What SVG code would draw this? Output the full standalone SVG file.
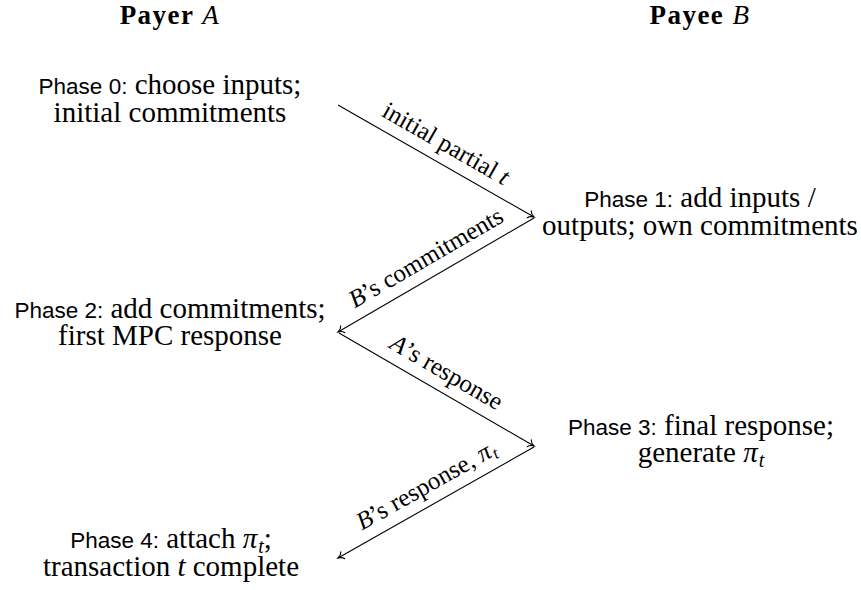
<svg xmlns="http://www.w3.org/2000/svg" width="861" height="590" viewBox="0 0 861 590">
<style>
text{font-family:"Liberation Serif","Times New Roman",serif;fill:#000;text-anchor:middle}
.node{font-size:29px}
.sf{font-family:"Liberation Sans",Arial,sans-serif;font-size:22.5px}
.it{font-style:italic}
.title{font-size:27px;font-weight:bold;letter-spacing:1.5px}
.lbl{font-size:25px}
.conn{stroke:#000;stroke-width:1.1;fill:none;marker-end:url(#to)}
</style>
<defs>
<marker id="to" markerUnits="userSpaceOnUse" viewBox="-8 -6 10 12" refX="0" refY="0" markerWidth="10" markerHeight="12" orient="auto" overflow="visible">
<path d="M-5.5,-4 C-4.5,-1.8 -1.5,-0.4 0,0 C-1.5,0.4 -4.5,1.8 -5.5,4" fill="none" stroke="#000" stroke-width="1.1" stroke-linecap="round"/>
</marker>
</defs>
<g id="titleA"><text class="title" x="170" y="24">Payer <tspan class="it" font-weight="normal">A</tspan></text></g>
<g id="titleB"><text class="title" x="700" y="24">Payee <tspan class="it" font-weight="normal">B</tspan></text></g>
<g id="phase0">
<text class="node" x="170" y="94"><tspan class="sf">Phase 0:</tspan> choose inputs;</text>
<text class="node" x="170" y="122">initial commitments</text>
</g>
<g id="phase1">
<text class="node" x="700" y="207"><tspan class="sf">Phase 1:</tspan> add inputs /</text>
<text class="node" x="700" y="235">outputs; own commitments</text>
</g>
<g id="phase2">
<text class="node" x="170" y="318"><tspan class="sf">Phase 2:</tspan> add commitments;</text>
<text class="node" x="170" y="345">first MPC response</text>
</g>
<g id="phase3">
<text class="node" x="701" y="435"><tspan class="sf">Phase 3:</tspan> final response;</text>
<text class="node" x="701" y="462">generate <tspan class="it">π</tspan><tspan class="it" font-size="20" dx="1" dy="5">t</tspan></text>
</g>
<g id="phase4">
<text class="node" x="171" y="548"><tspan class="sf">Phase 4:</tspan> attach <tspan class="it">π</tspan><tspan class="it" font-size="20" dx="1" dy="5">t</tspan><tspan dy="-5">;</tspan></text>
<text class="node" x="171" y="576">transaction <tspan class="it">t</tspan> complete</text>
</g>
<g id="connectors">
<path class="conn" d="M338,105 L534,217"/>
<path class="conn" d="M534,218 L338,332"/>
<path class="conn" d="M339,333 L534,446"/>
<path class="conn" d="M534,447 L338,558"/>
<g transform="translate(436,161) rotate(29.7)"><text class="lbl" x="0" y="-12">initial partial <tspan class="it">t</tspan></text></g>
<g transform="translate(436,275) rotate(-30.2)"><text class="lbl" x="0" y="-12"><tspan class="it">B</tspan>’s commitments</text></g>
<g transform="translate(436.5,389.5) rotate(30.1)"><text class="lbl" x="0" y="-12"><tspan class="it">A</tspan>’s response</text></g>
<g transform="translate(436,502.5) rotate(-29.5)"><text class="lbl" x="0" y="-12"><tspan class="it">B</tspan>’s response, <tspan class="it">π</tspan><tspan class="it" font-size="17" dx="1" dy="4">t</tspan></text></g>
</g>
</svg>
